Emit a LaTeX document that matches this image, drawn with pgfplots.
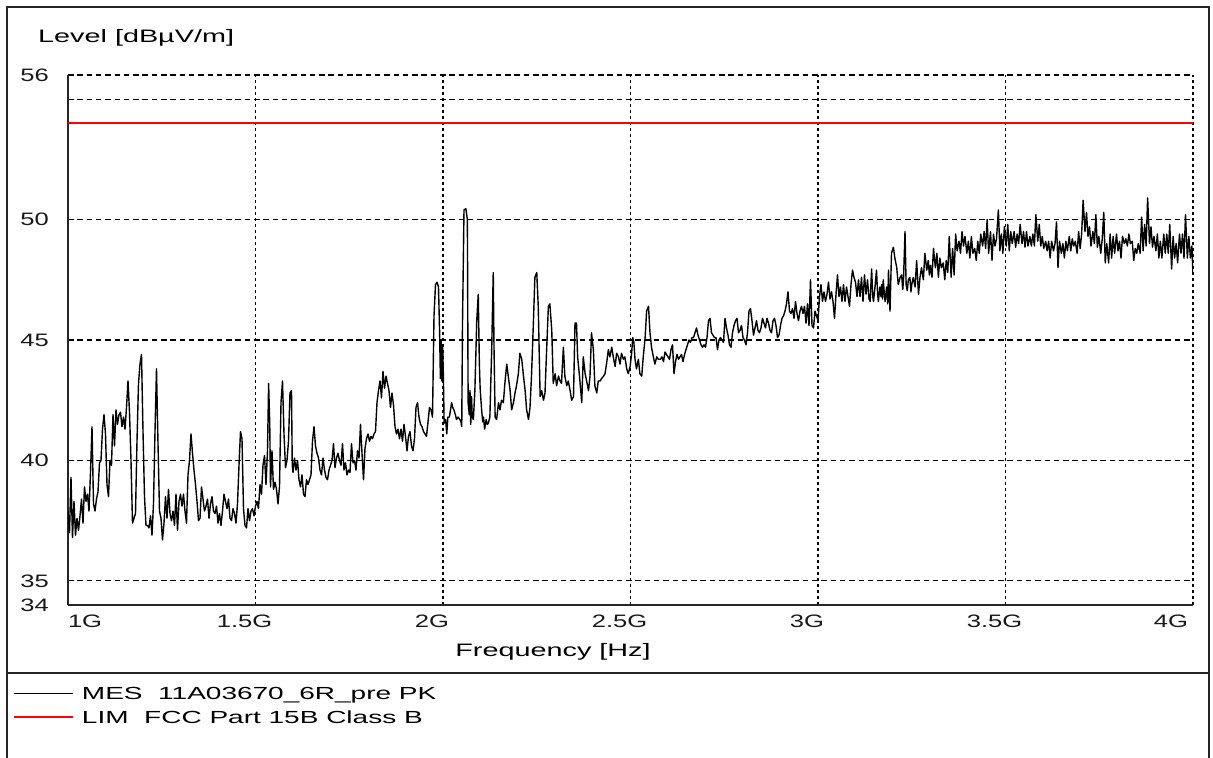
\documentclass[border=0pt]{standalone}
\usepackage{fontspec}
\setmainfont[FakeStretch=1.6]{Liberation Sans}
\newfontfamily\tickfont[FakeStretch=1.42]{Liberation Sans}
\usepackage{pgfplots}
\usepackage{pgfplotstable}
\pgfplotsset{compat=1.18}

\pgfplotstableread{
x y
1.000 37.9
1.004 37.0
1.008 39.3
1.012 36.8
1.016 38.3
1.020 36.9
1.024 37.6
1.028 37.1
1.032 37.7
1.036 38.4
1.040 37.4
1.044 38.9
1.048 38.3
1.052 38.6
1.056 37.9
1.060 39.5
1.064 41.4
1.068 38.2
1.072 37.9
1.076 38.4
1.080 38.7
1.084 39.9
1.088 40.0
1.092 41.3
1.096 41.9
1.100 41.1
1.104 39.0
1.108 38.5
1.112 40.0
1.116 39.8
1.120 41.9
1.124 40.6
1.128 42.1
1.132 41.5
1.136 41.9
1.140 42.0
1.144 41.4
1.148 41.8
1.152 41.3
1.156 42.2
1.160 43.3
1.164 42.0
1.168 40.0
1.172 37.4
1.176 37.6
1.180 37.8
1.184 40.8
1.188 43.2
1.192 44.0
1.196 44.4
1.200 41.2
1.204 38.5
1.208 37.3
1.212 37.3
1.216 37.2
1.220 37.7
1.224 36.9
1.228 38.2
1.232 41.2
1.236 43.8
1.240 40.7
1.244 37.9
1.248 37.6
1.252 36.7
1.256 37.4
1.260 38.5
1.264 37.6
1.268 38.8
1.272 37.8
1.276 37.5
1.280 37.9
1.284 37.3
1.288 38.6
1.292 37.1
1.296 38.3
1.300 38.6
1.304 38.1
1.308 38.6
1.312 37.9
1.316 37.4
1.320 39.4
1.324 40.0
1.328 41.1
1.332 40.3
1.336 39.6
1.340 39.0
1.344 38.3
1.348 37.5
1.352 37.6
1.356 38.9
1.360 38.4
1.364 37.9
1.368 38.1
1.372 38.4
1.376 37.6
1.380 38.2
1.384 38.5
1.388 37.9
1.392 37.8
1.396 38.1
1.400 37.4
1.404 37.8
1.408 37.3
1.412 37.9
1.416 38.6
1.420 38.3
1.424 38.0
1.428 38.4
1.432 37.6
1.436 37.5
1.440 38.0
1.444 37.8
1.448 37.4
1.452 38.2
1.456 39.8
1.460 41.2
1.464 40.9
1.468 38.0
1.472 37.3
1.476 37.2
1.480 38.0
1.484 37.5
1.488 37.9
1.492 38.0
1.496 37.7
1.500 38.1
1.504 38.3
1.508 38.0
1.512 39.0
1.516 38.6
1.520 39.8
1.524 40.2
1.528 39.0
1.532 40.4
1.535 43.2
1.538 41.5
1.540 38.9
1.544 40.4
1.548 38.8
1.552 39.1
1.556 38.8
1.560 38.2
1.564 38.9
1.568 42.4
1.572 43.3
1.576 41.1
1.580 39.7
1.584 40.0
1.588 40.8
1.592 42.8
1.596 42.9
1.598 39.8
1.600 39.5
1.604 40.1
1.608 39.6
1.612 40.0
1.616 39.2
1.620 38.9
1.624 39.4
1.628 38.6
1.632 38.5
1.636 39.2
1.640 39.0
1.644 39.2
1.648 39.4
1.652 40.8
1.656 41.4
1.660 40.6
1.664 40.3
1.668 40.1
1.672 39.6
1.676 39.4
1.680 40.1
1.684 39.6
1.688 39.3
1.692 39.2
1.696 39.6
1.700 39.8
1.704 40.0
1.708 40.7
1.712 39.7
1.716 40.1
1.720 40.3
1.724 40.0
1.728 39.8
1.732 40.7
1.736 39.6
1.740 39.9
1.744 39.4
1.748 39.6
1.752 39.5
1.756 40.7
1.760 39.9
1.764 40.0
1.768 39.6
1.772 40.4
1.776 40.1
1.780 41.5
1.784 40.3
1.788 39.2
1.792 40.5
1.796 40.9
1.800 41.1
1.804 40.8
1.808 41.0
1.812 40.9
1.816 41.1
1.820 41.2
1.824 42.4
1.828 42.9
1.832 43.3
1.836 42.6
1.840 43.7
1.844 43.0
1.848 43.5
1.852 43.2
1.856 42.9
1.860 42.2
1.864 42.8
1.868 42.3
1.872 41.4
1.876 41.1
1.880 41.3
1.884 40.9
1.888 41.3
1.892 40.8
1.896 41.5
1.900 41.0
1.904 40.4
1.908 41.0
1.912 41.2
1.916 40.6
1.920 40.4
1.924 40.9
1.928 42.2
1.932 42.4
1.936 41.8
1.940 41.5
1.944 41.4
1.948 41.2
1.952 41.1
1.956 41.0
1.960 41.6
1.964 42.2
1.968 42.1
1.972 41.8
1.976 46.0
1.980 47.3
1.984 47.4
1.988 47.2
1.991 45.3
1.993 43.4
1.995 45.0
1.997 43.3
1.999 44.8
2.001 43.5
2.003 41.55
2.007 41.7
2.010 41.1
2.013 41.8
2.017 41.8
2.020 42.1
2.023 42.4
2.026 42.2
2.029 42.1
2.033 41.9
2.036 41.7
2.040 41.8
2.045 41.7
2.048 41.6
2.050 41.4
2.052 45.7
2.056 50.4
2.061 50.45
2.065 50.0
2.067 42.4
2.070 41.9
2.072 42.9
2.074 41.5
2.076 42.65
2.078 41.8
2.081 41.7
2.085 42.9
2.090 45.8
2.094 46.9
2.097 44.0
2.099 43.0
2.103 42.1
2.106 41.6
2.108 41.8
2.111 41.3
2.115 41.7
2.118 41.5
2.121 41.55
2.125 41.8
2.130 44.7
2.134 47.8
2.136 44.7
2.139 41.8
2.143 41.7
2.148 42.4
2.152 42.1
2.156 42.5
2.161 42.4
2.165 43.2
2.170 44.0
2.174 43.5
2.179 42.9
2.183 42.1
2.188 42.4
2.192 42.8
2.196 43.1
2.201 43.6
2.205 44.45
2.210 44.2
2.214 43.6
2.219 42.9
2.223 42.1
2.228 41.7
2.232 42.2
2.236 43.5
2.241 45.7
2.245 47.6
2.250 47.8
2.254 46.4
2.259 42.65
2.263 42.9
2.268 42.5
2.272 42.8
2.276 44.45
2.281 46.4
2.285 46.5
2.290 45.4
2.294 43.2
2.299 43.6
2.303 43.1
2.308 43.5
2.312 43.3
2.316 43.2
2.321 44.7
2.325 43.5
2.330 43.1
2.334 43.3
2.339 42.9
2.343 42.5
2.348 42.65
2.352 45.7
2.356 45.7
2.359 44.3
2.364 43.5
2.370 42.4
2.374 44.3
2.379 43.6
2.383 43.3
2.388 42.9
2.392 43.5
2.396 45.3
2.401 44.6
2.405 43.1
2.410 42.8
2.414 43.3
2.419 43.3
2.423 43.4
2.428 43.5
2.432 43.6
2.436 44.0
2.441 44.6
2.445 44.3
2.450 44.7
2.454 44.3
2.459 43.9
2.463 44.45
2.468 44.3
2.472 44.0
2.476 44.45
2.481 44.2
2.485 44.3
2.490 43.8
2.494 43.6
2.499 43.9
2.503 44.45
2.506 45.1
2.509 44.9
2.512 44.2
2.516 43.8
2.521 44.2
2.525 43.6
2.530 43.5
2.534 44.3
2.539 45.1
2.543 46.2
2.548 46.4
2.552 45.3
2.556 44.7
2.561 44.3
2.565 44.0
2.570 44.3
2.574 44.2
2.580 44.2
2.584 44.3
2.588 44.1
2.592 44.5
2.596 44.4
2.600 44.3
2.604 44.2
2.608 44.6
2.612 44.8
2.616 43.6
2.620 44.1
2.624 44.4
2.628 44.2
2.632 44.3
2.636 44.4
2.640 44.1
2.644 44.4
2.648 44.6
2.652 44.8
2.656 45.0
2.660 44.9
2.664 45.1
2.668 45.1
2.672 45.3
2.676 45.5
2.680 45.2
2.684 45.0
2.688 44.8
2.692 44.7
2.696 44.8
2.700 44.7
2.704 45.1
2.708 45.8
2.712 45.9
2.716 45.3
2.720 45.2
2.724 45.1
2.728 45.1
2.732 44.6
2.736 45.0
2.740 45.1
2.744 45.0
2.748 44.9
2.752 45.9
2.756 45.5
2.760 45.2
2.764 44.8
2.768 44.7
2.772 45.3
2.776 45.6
2.780 45.8
2.784 45.9
2.788 45.3
2.792 45.4
2.796 45.6
2.800 45.1
2.804 45.0
2.808 44.8
2.812 45.3
2.816 46.2
2.820 46.3
2.824 45.8
2.828 45.2
2.832 45.5
2.836 45.8
2.840 45.4
2.844 45.3
2.848 45.5
2.852 45.9
2.856 45.7
2.860 45.5
2.864 45.9
2.868 45.7
2.872 45.4
2.876 45.3
2.880 45.8
2.884 45.9
2.888 45.6
2.892 45.1
2.896 45.2
2.900 45.6
2.904 45.9
2.908 46.0
2.912 46.2
2.916 46.5
2.920 47.0
2.924 46.2
2.928 46.1
2.932 46.3
2.936 45.9
2.940 46.6
2.944 46.1
2.948 45.8
2.952 46.2
2.956 46.4
2.960 46.1
2.964 46.4
2.968 45.7
2.972 46.5
2.976 45.6
2.980 47.5
2.984 45.6
2.988 45.5
2.992 46.2
2.996 46.0
3.000 45.8
3.004 46.8
3.008 47.3
3.012 46.6
3.016 47.0
3.020 46.6
3.024 46.9
3.028 47.4
3.032 46.7
3.036 47.0
3.040 46.6
3.044 45.9
3.048 46.9
3.052 47.7
3.056 46.8
3.060 47.2
3.064 46.6
3.068 47.3
3.072 46.6
3.076 47.2
3.080 46.8
3.084 46.4
3.088 47.3
3.092 47.9
3.096 47.6
3.100 47.4
3.104 46.8
3.108 47.5
3.112 46.8
3.116 47.6
3.120 46.6
3.124 47.7
3.128 46.9
3.132 47.5
3.136 46.7
3.139 46.6
3.143 47.95
3.146 46.8
3.148 46.6
3.152 47.2
3.156 47.9
3.159 46.9
3.161 46.6
3.165 47.2
3.168 46.8
3.170 47.3
3.172 46.7
3.174 47.5
3.177 46.9
3.179 46.6
3.183 47.2
3.186 46.5
3.188 47.9
3.192 46.2
3.196 48.6
3.201 48.85
3.205 48.4
3.210 48.0
3.214 47.3
3.219 47.6
3.223 47.7
3.226 47.1
3.228 47.5
3.232 49.5
3.235 47.3
3.238 47.05
3.241 47.5
3.245 47.6
3.248 47.0
3.250 47.3
3.254 47.6
3.259 47.2
3.263 48.3
3.268 46.9
3.272 47.6
3.276 48.0
3.281 47.5
3.285 48.6
3.290 47.9
3.294 48.3
3.297 47.7
3.300 48.1
3.304 47.6
3.308 48.8
3.313 48.0
3.317 48.6
3.321 47.6
3.325 48.4
3.329 48.0
3.334 48.2
3.338 47.5
3.342 48.3
3.346 47.8
3.350 49.3
3.355 47.6
3.359 48.8
3.363 47.7
3.367 49.4
3.371 48.7
3.376 49.1
3.380 48.6
3.384 49.5
3.388 48.9
3.392 49.3
3.397 48.6
3.401 49.1
3.405 48.4
3.409 49.3
3.413 48.6
3.418 48.8
3.422 48.3
3.426 49.1
3.430 48.6
3.434 49.4
3.439 48.9
3.443 49.5
3.447 48.8
3.451 50.0
3.455 48.6
3.460 49.5
3.464 48.3
3.468 49.4
3.472 48.9
3.476 49.2
3.481 50.4
3.485 48.7
3.489 49.4
3.493 48.6
3.497 49.7
3.502 48.9
3.506 49.8
3.510 48.7
3.514 49.5
3.518 49.0
3.523 49.5
3.527 48.85
3.531 49.4
3.535 49.0
3.539 49.8
3.544 49.0
3.548 49.5
3.552 48.85
3.556 49.5
3.560 48.9
3.565 49.3
3.569 48.9
3.573 49.4
3.577 48.9
3.581 50.2
3.586 49.1
3.590 49.8
3.594 48.9
3.598 49.3
3.602 48.8
3.607 49.1
3.611 48.7
3.615 49.1
3.619 48.4
3.623 49.1
3.628 48.7
3.632 49.0
3.636 49.9
3.640 48.0
3.644 49.1
3.649 48.6
3.653 49.0
3.657 48.4
3.661 49.1
3.665 48.7
3.670 49.3
3.674 48.7
3.678 49.2
3.682 48.9
3.686 49.1
3.691 48.6
3.695 49.5
3.699 48.8
3.703 49.4
3.707 50.8
3.712 49.5
3.716 50.3
3.720 49.3
3.724 49.7
3.728 48.9
3.733 49.5
3.737 49.0
3.741 50.2
3.745 48.85
3.749 49.3
3.754 48.6
3.758 49.2
3.762 50.3
3.766 48.2
3.770 49.0
3.775 48.2
3.779 49.4
3.783 48.4
3.787 49.3
3.791 48.6
3.796 49.4
3.800 48.7
3.804 49.1
3.808 48.4
3.812 49.3
3.817 49.0
3.821 49.2
3.825 48.9
3.829 49.4
3.833 49.0
3.838 49.1
3.842 48.3
3.846 48.8
3.850 48.6
3.854 49.0
3.859 48.6
3.863 50.1
3.867 48.7
3.871 49.8
3.875 48.9
3.879 50.9
3.884 49.0
3.888 49.7
3.892 48.85
3.896 49.3
3.901 48.7
3.905 49.4
3.909 48.4
3.913 49.1
3.917 48.4
3.922 49.4
3.926 48.6
3.930 49.4
3.934 48.6
3.938 49.8
3.943 47.95
3.947 49.3
3.951 48.4
3.955 49.0
3.959 48.2
3.964 49.4
3.968 48.6
3.972 49.4
3.976 48.4
3.980 50.2
3.985 48.4
3.989 49.3
3.993 48.4
3.997 48.9
4.000 47.7
}\mes

\begin{document}
\begin{tikzpicture}
\useasboundingbox (0,0) rectangle (1213bp,758bp);
\fill[white] (0,0) rectangle (1213bp,758bp);
\draw[line width=1.5bp, black!85] (7bp,0) -- (7bp,751bp) -- (1209bp,751bp) -- (1209bp,0);
\draw[line width=1.5bp, black!85] (7bp,85bp) -- (1209bp,85bp);
\node[anchor=base west, inner sep=0pt, font=\fontsize{18bp}{20bp}\selectfont] at (38bp,715.3bp) {Level [dBµV/m]};
\node[anchor=base, inner sep=0pt, font=\fontsize{18bp}{20bp}\selectfont] at (553bp,101.5bp) {Frequency [Hz]};
\begin{axis}[
  at={(68bp,153bp)}, anchor=south west,
  scale only axis, width=1125bp, height=530bp,
  xmin=1, xmax=4, ymin=34, ymax=56,
  axis x line*=bottom, axis y line*=left,
  axis line style={-, line width=1.4bp, black!85},
  xtick={1,1.5,2,2.5,3,3.5,4},
  xticklabels={\makebox[0pt][l]{\hspace*{11bp}1G},1.5G,2G,2.5G,3G,3.5G,\makebox[0pt][r]{4G\hspace*{-6bp}}},
  ytick={34,35,40,45,50,55,56},
  yticklabels={34,35,40,45,50,{},56},
  grid=major,
  x grid style={black, line width=1.8bp, dash pattern=on 3bp off 3bp},
  y grid style={black, line width=1.1bp, dash pattern=on 5.5bp off 3.8bp},
  major tick length=0pt,
  /pgf/number format/assume math mode=true,
  tick label style={font=\tickfont\fontsize{18bp}{20bp}\selectfont, inner sep=0pt, black!90},
  yticklabel style={anchor=east, xshift=-19bp},
  xticklabel style={anchor=north, yshift=-10bp, xshift=-11bp},
  legend style={at={(-0.0489,-0.1560)}, anchor=north west, draw=none, fill=none,
    inner sep=0pt, outer sep=0pt, row sep=10.5bp, column sep=8bp,
    font=\fontsize{17.5bp}{20bp}\selectfont,
    cells={anchor=west}, nodes={inner sep=0pt, text depth=0pt}},
  legend image code/.code={\draw[#1] (0bp,0bp) -- (59bp,0bp);},
]
\addplot[black, line width=1.4bp, line join=round] table[x=x, y=y] {\mes};
\addlegendentry{MES\ \ 11A03670\_6R\_pre PK}
\addplot[red, line width=2bp] coordinates {(1,54) (4,54)};
\addlegendentry{LIM\ \ FCC Part 15B Class B}
\end{axis}
\end{tikzpicture}
\end{document}
